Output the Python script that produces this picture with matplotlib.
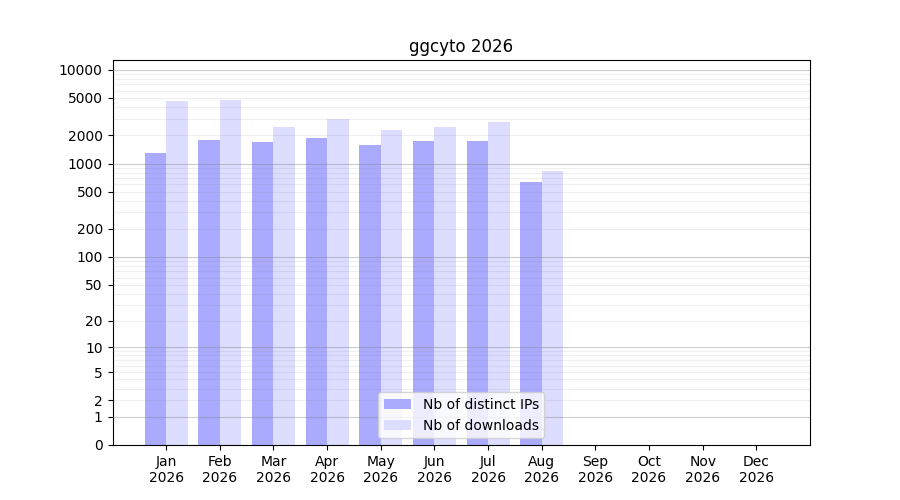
import matplotlib
matplotlib.use('Agg')
import matplotlib.pyplot as plt
import numpy as np

months = ['Jan', 'Feb', 'Mar', 'Apr', 'May', 'Jun', 'Jul', 'Aug', 'Sep', 'Oct', 'Nov', 'Dec']
year = '2026'
nb_ips = [1300, 1785, 1700, 1875, 1580, 1740, 1740, 637]
nb_downloads = [4650, 4765, 2455, 3010, 2280, 2455, 2775, 834]
ytick_values = [0, 1, 2, 5, 10, 20, 50, 100, 200, 500, 1000, 2000, 5000, 10000]


def forward(y):
    return np.log10(1 + np.maximum(y, 0))


def inverse(y):
    return 10 ** y - 1


fig, ax = plt.subplots(figsize=(9, 5), dpi=100)
ax.set_yscale('function', functions=(forward, inverse))

x = np.arange(1, len(nb_ips) + 1)
ax.bar(x - 0.2, nb_ips, width=0.4, color='#aaaaff', label='Nb of distinct IPs', zorder=2)
ax.bar(x + 0.2, nb_downloads, width=0.4, color='#ddddff', label='Nb of downloads', zorder=2)

# grid: decades darker, the rest light
for k in range(5):
    ax.axhline(10 ** k, color='gray', alpha=0.4, linewidth=0.8, zorder=3)
    if k < 4:
        for m in range(2, 10):
            ax.axhline(m * 10 ** k, color='gray', alpha=0.12, linewidth=0.8, zorder=3)

ax.set_xlim(0, 13)
ax.set_ylim(0, inverse(4.104))
ax.set_xticks(range(1, 13))
ax.set_xticklabels([f'{m}\n{year}' for m in months])
ax.set_yticks(ytick_values)
ax.set_yticklabels([str(v) for v in ytick_values])
ax.minorticks_off()
ax.set_title('ggcyto 2026')
ax.legend(loc='lower center')

plt.savefig('out.png', dpi=100)
